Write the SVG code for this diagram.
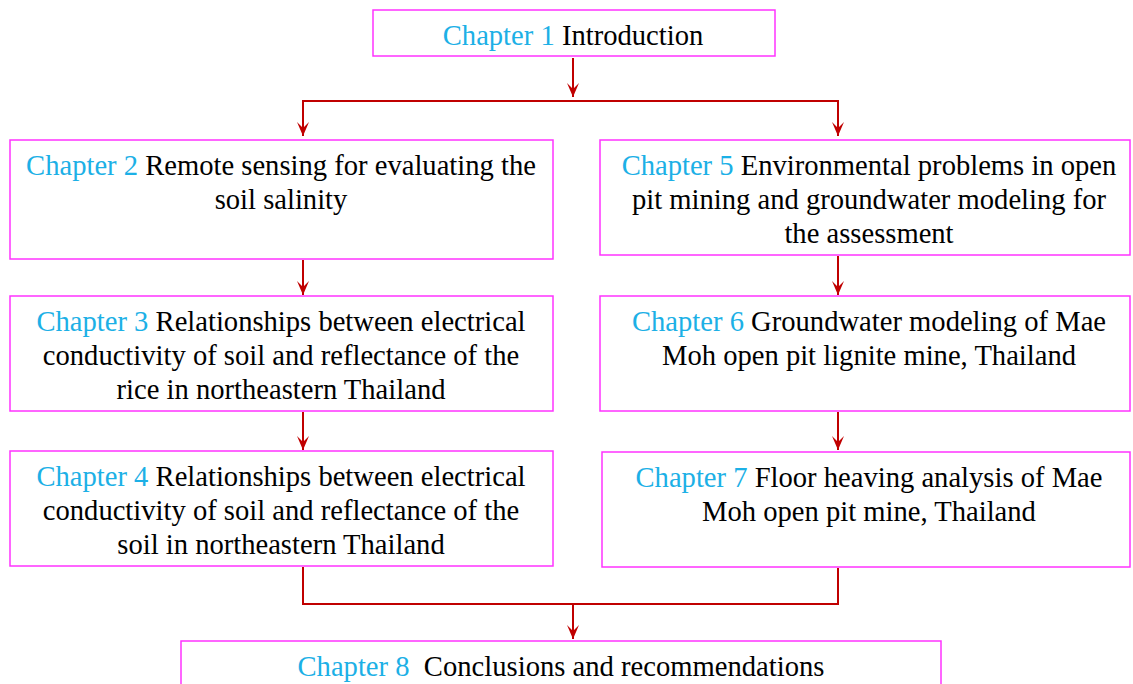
<svg xmlns="http://www.w3.org/2000/svg" width="1133" height="684" viewBox="0 0 1133 684">
<defs>
<style>
.box{fill:#fff;stroke:#ff33ff;stroke-width:1.5}
.t{font-family:'Liberation Serif','Times New Roman',Times,serif;font-size:28.6px;fill:#000;text-anchor:middle}
.c{fill:#1cb0e6}
.ln{fill:none;stroke:#c00000;stroke-width:2}
</style>
<marker id="ah" viewBox="0 0 14 12" refX="14" refY="6" markerWidth="14" markerHeight="12" markerUnits="userSpaceOnUse" orient="auto">
<path d="M0,0 L14,6 L0,12 L6,6 Z" fill="#c00000"/>
</marker>
</defs>
<rect width="1133" height="684" fill="#fff"/>
<g id="connectors">
<path class="ln" d="M573,58 V97" marker-end="url(#ah)"/>
<path class="ln" d="M303,120 V101 H838 V120"/>
<path class="ln" d="M303,118 V136" marker-end="url(#ah)"/>
<path class="ln" d="M838,118 V136" marker-end="url(#ah)"/>
<path class="ln" d="M303,260 V295" marker-end="url(#ah)"/>
<path class="ln" d="M838,256 V295" marker-end="url(#ah)"/>
<path class="ln" d="M303,412 V450" marker-end="url(#ah)"/>
<path class="ln" d="M838,412 V450" marker-end="url(#ah)"/>
<path class="ln" d="M303,567 V604 H838 V568"/>
<path class="ln" d="M573,604 V639" marker-end="url(#ah)"/>
</g>
<g id="ch1">
<rect class="box" x="373" y="10" width="402" height="46"/>
<text class="t" x="573" y="45"><tspan class="c">Chapter 1</tspan> Introduction</text>
</g>
<g id="ch2">
<rect class="box" x="10" y="140" width="543" height="119"/>
<text class="t" x="281" y="175"><tspan class="c">Chapter 2</tspan> Remote sensing for evaluating the</text>
<text class="t" x="281" y="209">soil salinity</text>
</g>
<g id="ch5">
<rect class="box" x="600" y="140" width="530" height="115"/>
<text class="t" x="869" y="175"><tspan class="c">Chapter 5</tspan> Environmental problems in open</text>
<text class="t" x="869" y="209">pit mining and groundwater modeling for</text>
<text class="t" x="869" y="243">the assessment</text>
</g>
<g id="ch3">
<rect class="box" x="10" y="296" width="543" height="115"/>
<text class="t" x="281" y="331"><tspan class="c">Chapter 3</tspan> Relationships between electrical</text>
<text class="t" x="281" y="365">conductivity of soil and reflectance of the</text>
<text class="t" x="281" y="399">rice in northeastern Thailand</text>
</g>
<g id="ch6">
<rect class="box" x="600" y="296" width="530" height="115"/>
<text class="t" x="869" y="331"><tspan class="c">Chapter 6</tspan> Groundwater modeling of Mae</text>
<text class="t" x="869" y="365">Moh open pit lignite mine, Thailand</text>
</g>
<g id="ch4">
<rect class="box" x="10" y="451" width="543" height="115"/>
<text class="t" x="281" y="486"><tspan class="c">Chapter 4</tspan> Relationships between electrical</text>
<text class="t" x="281" y="520">conductivity of soil and reflectance of the</text>
<text class="t" x="281" y="554">soil in northeastern Thailand</text>
</g>
<g id="ch7">
<rect class="box" x="602" y="452" width="528" height="115"/>
<text class="t" x="869" y="487"><tspan class="c">Chapter 7</tspan> Floor heaving analysis of Mae</text>
<text class="t" x="869" y="521">Moh open pit mine, Thailand</text>
</g>
<g id="ch8">
<rect class="box" x="181" y="641" width="760" height="60"/>
<text class="t" x="561" y="676" xml:space="preserve" textLength="527" lengthAdjust="spacingAndGlyphs"><tspan class="c">Chapter 8</tspan>  Conclusions and recommendations</text>
</g>
</svg>
